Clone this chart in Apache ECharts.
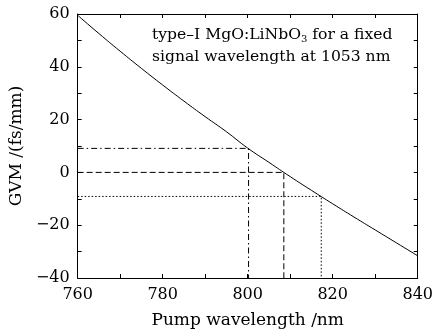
<!DOCTYPE html>
<html>
<head>
<meta charset="utf-8">
<script src="https://cdn.jsdelivr.net/npm/echarts@6/dist/echarts.min.js"></script>
<style>
  html, body { margin: 0; padding: 0; background: #fff; }
  #chart { width: 436px; height: 334px; }
</style>
</head>
<body>
<div id="chart"></div>
<script>
// GVM curve
const wavelengths = [760, 765, 770, 775, 780, 785, 790, 795, 800, 805, 810, 815, 820, 825, 830, 835, 840];
const gvmValues = [59.5, 52.6, 45.9, 39.4, 33.1, 27.0, 21.1, 15.4, 9.2, 3.8, -1.6, -6.8, -11.9, -16.9, -21.8, -26.7, -31.6];

// guide lines: dash-dot, dashed, dotted
const markX = [800.2, 808.5, 817.3];
const markY = [9.1, 0, -9.1];

const xMin = 760, xMax = 840, xStep = 20;
const yMin = -40, yMax = 60, yStep = 20;

const serif = '"DejaVu Serif", "Liberation Serif", serif';
const guideDash = [[6, 3, 1.5, 3], [6, 3], [1.5, 2]];

const chart = echarts.init(document.getElementById('chart'));

const frameAxis = (extra) => Object.assign({
  type: 'value',
  axisLine: { show: true, onZero: false, lineStyle: { color: '#000', width: 1 } },
  axisTick: { show: true, inside: true, length: 4, lineStyle: { color: '#000' } },
  minorTick: { show: true, splitNumber: 2, length: 4, lineStyle: { color: '#000' } },
  splitLine: { show: false },
  axisLabel: { show: false },
  nameTextStyle: { color: '#000', fontFamily: serif, fontSize: 17 }
}, extra);

const tickLabel = (margin) => ({
  color: '#000', fontFamily: serif, fontSize: 16, margin: margin,
  formatter: (v) => String(v).replace('-', '\u2212')
});

const guideSeries = markX.map((x, i) => ({
  type: 'line',
  data: [[xMin, markY[i]], [x, markY[i]], [x, yMin]],
  symbol: 'none',
  silent: true,
  lineStyle: { color: '#000', width: 1, type: guideDash[i] }
}));

chart.setOption({
  animation: false,
  backgroundColor: '#fff',
  grid: { left: 74, right: 17, top: 14, bottom: 53 },
  title: {
    left: 152, top: 24, padding: 0,
    text: 'type–I MgO:LiNbO{sub|3} for a fixed\nsignal wavelength at 1053 nm',
    textStyle: {
      color: '#000', fontFamily: serif, fontSize: 15.6, fontWeight: 'normal', lineHeight: 22,
      rich: { sub: { fontFamily: serif, fontSize: 10, padding: [9, 0, 0, 0] } }
    }
  },
  xAxis: [
    frameAxis({
      min: xMin, max: xMax, interval: xStep, position: 'bottom',
      name: 'Pump wavelength /nm', nameLocation: 'middle', nameGap: 34,
      axisLabel: tickLabel(9)
    }),
    frameAxis({ min: xMin, max: xMax, interval: xStep, position: 'top' })
  ],
  yAxis: [
    frameAxis({
      min: yMin, max: yMax, interval: yStep, position: 'left',
      name: 'GVM /(fs/mm)', nameLocation: 'middle', nameGap: 51,
      axisLabel: tickLabel(8)
    }),
    frameAxis({ min: yMin, max: yMax, interval: yStep, position: 'right' })
  ],
  series: [
    {
      type: 'line',
      data: wavelengths.map((w, i) => [w, gvmValues[i]]),
      smooth: true,
      symbol: 'none',
      lineStyle: { color: '#000', width: 1 }
    },
    ...guideSeries
  ]
});
</script>
</body>
</html>
